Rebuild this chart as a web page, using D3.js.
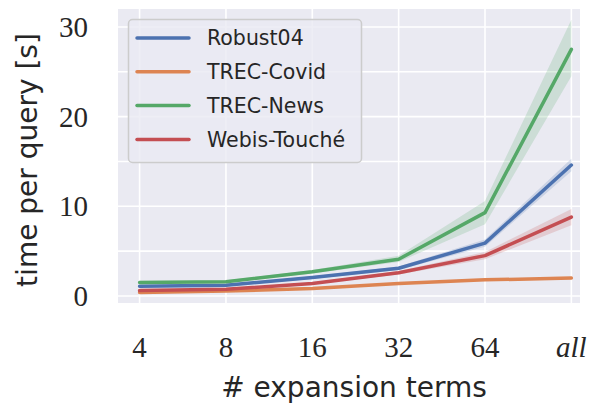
<!DOCTYPE html>
<html><head><meta charset="utf-8">
<script src="https://cdn.jsdelivr.net/npm/d3@7"></script>
<style>html,body{margin:0;padding:0;background:#fff;}svg{display:block;}</style>
</head><body>
<script>
const categories = ["4", "8", "16", "32", "64", "all"];
const seriesNames = ["Robust04", "TREC-Covid", "TREC-News", "Webis-Touché"];
const robust04 = [1.1, 1.2, 2.05, 3.1, 5.9, 14.6];
const robust04Lo = [1.0, 1.1, 1.9, 2.9, 5.5, 13.9];
const robust04Hi = [1.2, 1.3, 2.2, 3.3, 6.3, 15.3];
const trecCovid = [0.4, 0.55, 0.85, 1.4, 1.8, 2.0];
const trecCovidLo = [0.35, 0.5, 0.8, 1.35, 1.75, 1.9];
const trecCovidHi = [0.45, 0.6, 0.9, 1.45, 1.85, 2.1];
const trecNews = [1.5, 1.6, 2.7, 4.1, 9.3, 27.5];
const trecNewsLo = [1.4, 1.5, 2.5, 3.8, 8.0, 24.5];
const trecNewsHi = [1.7, 1.75, 2.9, 4.5, 10.6, 30.8];
const webis = [0.6, 0.75, 1.4, 2.6, 4.5, 8.8];
const webisLo = [0.5, 0.65, 1.3, 2.4, 4.1, 7.9];
const webisHi = [0.7, 0.85, 1.5, 2.8, 4.9, 9.7];
const yTicks = [0, 10, 20, 30];
const yGrid = [0, 5, 10, 15, 20, 25, 30];
const colors = ["#4c72b0", "#dd8452", "#55a868", "#c44e52"];

const series = [
  {name: seriesNames[0], v: robust04, lo: robust04Lo, hi: robust04Hi, c: colors[0]},
  {name: seriesNames[1], v: trecCovid, lo: trecCovidLo, hi: trecCovidHi, c: colors[1]},
  {name: seriesNames[2], v: trecNews, lo: trecNewsLo, hi: trecNewsHi, c: colors[2]},
  {name: seriesNames[3], v: webis, lo: webisLo, hi: webisHi, c: colors[3]}
];

const W = 590, H = 408;
const L = 118, R = 580, T = 9, B = 303;
const svg = d3.select("body").append("svg").attr("width", W).attr("height", H);

const x = d3.scaleLinear().domain([-0.25, 5.1]).range([L, R]);
const y = d3.scaleLinear().domain([-0.78, 32.0]).range([B, T]);

svg.append("rect").attr("x", L).attr("y", T).attr("width", R - L).attr("height", B - T).attr("fill", "#eaeaf2");

const g = svg.append("g");
g.selectAll(".hg").data(yGrid).enter().append("line")
  .attr("x1", L).attr("x2", R).attr("y1", d => y(d)).attr("y2", d => y(d))
  .attr("stroke", "#fff").attr("stroke-width", 1.6);
g.selectAll(".vg").data(categories).enter().append("line")
  .attr("y1", T).attr("y2", B).attr("x1", (d, i) => x(i)).attr("x2", (d, i) => x(i))
  .attr("stroke", "#fff").attr("stroke-width", 1.6);

const area = d3.area().x((d, i) => x(i)).y0(d => y(d[0])).y1(d => y(d[1]));
const line = d3.line().x((d, i) => x(i)).y(d => y(d));

series.forEach(s => {
  const band = s.lo.map((l, i) => [l, s.hi[i]]);
  svg.append("path").datum(band).attr("d", area).attr("fill", s.c).attr("fill-opacity", 0.2);
});
series.forEach(s => {
  svg.append("path").datum(s.v).attr("d", line).attr("fill", "none")
    .attr("stroke", s.c).attr("stroke-width", 3.5).attr("stroke-linecap", "round").attr("stroke-linejoin", "round");
});

// y tick labels
svg.selectAll(".yt").data(yTicks).enter().append("text")
  .attr("x", 88).attr("y", d => y(d)).attr("dy", "0.35em")
  .attr("text-anchor", "end").attr("font-family", "Liberation Serif, serif").attr("font-size", 29)
  .attr("fill", "#262626").text(d => d);

// x tick labels
svg.selectAll(".xt").data(categories).enter().append("text")
  .attr("x", (d, i) => x(i)).attr("y", 357)
  .attr("text-anchor", "middle").attr("font-family", "Liberation Serif, serif").attr("font-size", 29)
  .attr("font-style", d => d === "all" ? "italic" : "normal")
  .attr("fill", "#262626").text(d => d);

svg.append("text").attr("x", 354).attr("y", 397).attr("text-anchor", "middle")
  .attr("font-family", "DejaVu Sans, sans-serif").attr("font-size", 28).attr("fill", "#262626")
  .text("# expansion terms");

svg.append("text").attr("transform", "translate(37,160) rotate(-90)").attr("text-anchor", "middle")
  .attr("font-family", "DejaVu Sans, sans-serif").attr("font-size", 28).attr("fill", "#262626")
  .text("time per query [s]");

// legend
const lg = svg.append("g");
lg.append("rect").attr("x", 128.5).attr("y", 19.5).attr("width", 233).attr("height", 143).attr("rx", 4)
  .attr("fill", "#eaeaf2").attr("fill-opacity", 0.8).attr("stroke", "#cccccc").attr("stroke-width", 1.5);
series.forEach((s, i) => {
  const yy = 38 + i * 33.8;
  lg.append("line").attr("x1", 137).attr("x2", 189).attr("y1", yy).attr("y2", yy)
    .attr("stroke", s.c).attr("stroke-width", 3.5).attr("stroke-linecap", "round");
  lg.append("text").attr("x", 207).attr("y", yy).attr("dy", "0.36em")
    .attr("font-family", "DejaVu Sans, sans-serif").attr("font-size", 20.5).attr("fill", "#262626")
    .text(s.name);
});
</script>
</body></html>
